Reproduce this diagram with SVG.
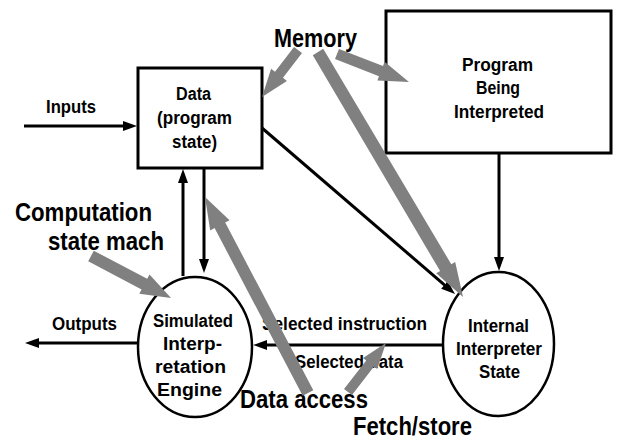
<svg xmlns="http://www.w3.org/2000/svg" width="618" height="441" viewBox="0 0 618 441">
  <style>
    .box { fill: #fff; stroke: #000; stroke-width: 3; }
    .oval { fill: #fff; stroke: #000; stroke-width: 2.5; }
    .flow { fill: none; stroke: #000; stroke-width: 3; marker-end: url(#head); }
    .fat { fill: #808080; stroke: none; }
    text { font-family: "Liberation Sans", Arial, sans-serif; font-weight: bold; fill: #000; }
    .node { font-size: 18px; text-anchor: middle; }
    .lbl { font-size: 18px; }
    .big { font-size: 25px; }
  </style>
  <defs>
    <marker id="head" viewBox="0 0 14 10" refX="8" refY="5" markerWidth="14" markerHeight="10" markerUnits="userSpaceOnUse" orient="auto">
      <path d="M0,0 L14,5 L0,10 z" fill="#000"/>
    </marker>
  </defs>

  <rect width="618" height="441" fill="#fff"/>

  <!-- black data-flow connectors -->
  <g id="connectors">
    <line class="flow" x1="24" y1="126" x2="131" y2="126"/>
    <line class="flow" x1="138" y1="343" x2="31" y2="343"/>
    <line class="flow" x1="443" y1="345" x2="259" y2="345"/>
    <line class="flow" x1="499" y1="153" x2="499" y2="265"/>
    <line class="flow" x1="183" y1="276" x2="183" y2="175"/>
    <line class="flow" x1="204" y1="168" x2="204" y2="267"/>
    <line class="flow" x1="262" y1="128" x2="450.5" y2="290.1"/>
  </g>

  <g id="data">
    <rect class="box" x="138" y="68" width="124" height="100"/>
    <text class="node" x="193.5" y="100" textLength="35" lengthAdjust="spacingAndGlyphs">Data</text>
    <text class="node" x="194.5" y="124" textLength="75" lengthAdjust="spacingAndGlyphs">(program</text>
    <text class="node" x="194.5" y="148" textLength="45" lengthAdjust="spacingAndGlyphs">state)</text>
  </g>

  <g id="program">
    <rect class="box" x="386" y="11" width="225" height="142"/>
    <text class="node" x="497.5" y="71" textLength="71" lengthAdjust="spacingAndGlyphs">Program</text>
    <text class="node" x="498" y="94" textLength="44" lengthAdjust="spacingAndGlyphs">Being</text>
    <text class="node" x="499" y="118" textLength="90" lengthAdjust="spacingAndGlyphs">Interpreted</text>
  </g>

  <g id="sim-engine">
    <ellipse class="oval" cx="195" cy="347" rx="57" ry="70"/>
    <text class="node" x="193" y="327" textLength="80" lengthAdjust="spacingAndGlyphs">Simulated</text>
    <text class="node" x="192.5" y="350" textLength="59" lengthAdjust="spacingAndGlyphs">Interp-</text>
    <text class="node" x="190.5" y="373" textLength="71" lengthAdjust="spacingAndGlyphs">retation</text>
    <text class="node" x="189.5" y="396" textLength="65" lengthAdjust="spacingAndGlyphs">Engine</text>
  </g>

  <g id="internal-state">
    <ellipse class="oval" cx="498.5" cy="344" rx="55.5" ry="72"/>
    <text class="node" x="498.5" y="332" textLength="61" lengthAdjust="spacingAndGlyphs">Internal</text>
    <text class="node" x="499" y="355" textLength="86" lengthAdjust="spacingAndGlyphs">Interpreter</text>
    <text class="node" x="499.5" y="378" textLength="41" lengthAdjust="spacingAndGlyphs">State</text>
  </g>

  <!-- edge labels -->
  <g id="labels">
    <text class="lbl" x="46" y="113" textLength="50" lengthAdjust="spacingAndGlyphs">Inputs</text>
    <text class="lbl" x="52" y="330" textLength="65" lengthAdjust="spacingAndGlyphs">Outputs</text>
    <text class="lbl" x="262" y="330" textLength="165" lengthAdjust="spacingAndGlyphs">Selected instruction</text>
    <text class="lbl" x="295" y="368" textLength="108" lengthAdjust="spacingAndGlyphs">Selected data</text>
    <text class="big" x="274" y="47" font-size="28" textLength="83" lengthAdjust="spacingAndGlyphs">Memory</text>
    <text class="big" x="15" y="221" textLength="137" lengthAdjust="spacingAndGlyphs">Computation</text>
    <text class="big" x="48" y="250" textLength="116" lengthAdjust="spacingAndGlyphs">state mach</text>
    <text class="big" x="240" y="408" textLength="128" lengthAdjust="spacingAndGlyphs">Data access</text>
    <text class="big" x="353" y="435" textLength="119" lengthAdjust="spacingAndGlyphs">Fetch/store</text>
  </g>

  <!-- wide grey annotation arrows -->
  <g id="access-arrows">
    <polygon class="fat" points="294.0,47.0 275.0,71.8 271.1,68.7 262,97 286.9,80.9 283.0,77.8 302.0,53.0"/>
    <polygon class="fat" points="335.0,59.1 379.0,76.2 377.4,80.4 409,82 384.6,61.8 383.0,66.0 339.0,48.9"/>
    <polygon class="fat" points="312.8,55.2 440.1,271.1 436.2,273.3 463,297 455.2,262.1 451.3,264.3 323.2,48.8"/>
    <polygon class="fat" points="88.2,261.3 141.6,289.4 139.3,293.8 171,298 149.5,274.4 147.2,278.8 93.8,250.7"/>
    <polygon class="fat" points="313.3,390.2 225.2,222.5 229.6,220.2 205,197 210.2,230.4 214.6,228.1 302.7,395.8"/>
    <polygon class="fat" points="352.0,395.1 374.0,366.6 377.2,369.0 386,343 363.0,358.0 366.2,360.4 344.0,388.9"/>
  </g>
</svg>
